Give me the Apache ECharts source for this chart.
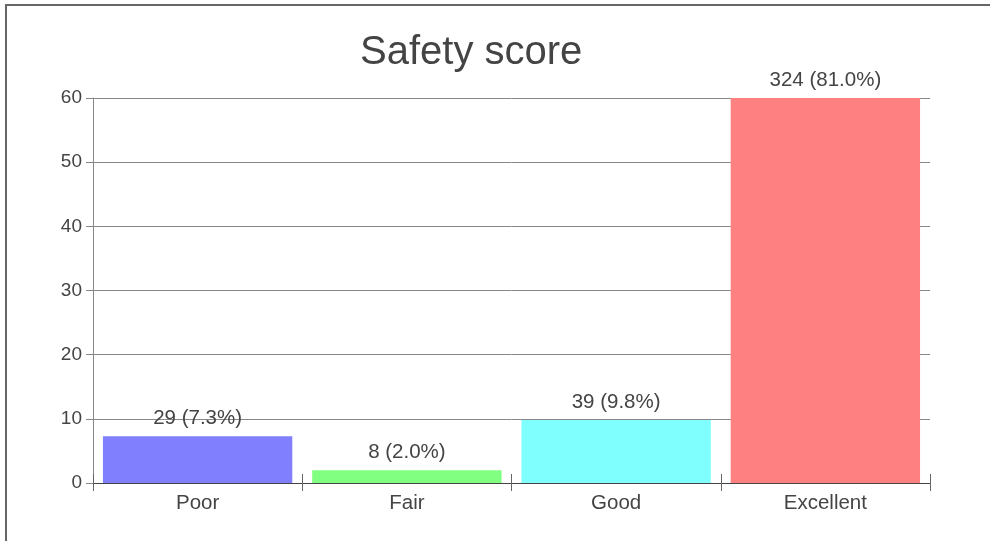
<!DOCTYPE html>
<html>
<head>
<meta charset="utf-8">
<script src="https://cdn.jsdelivr.net/npm/echarts@6/dist/echarts.min.js"></script>
<style>
  html, body { margin: 0; padding: 0; background: #fff; }
  #chart { width: 990px; height: 541px; }
</style>
</head>
<body>
<div id="chart"></div>
<script>
// Safety score distribution: counts and share of responses
const categories = ['Poor', 'Fair', 'Good', 'Excellent'];
const counts = [29, 8, 39, 324];
const percents = [7.3, 2.0, 9.8, 81.0];
const barColors = ['#8080ff', '#80ff80', '#80ffff', '#ff8080'];
const yTicks = [0, 10, 20, 30, 40, 50, 60];

const FONT = '"Liberation Sans", Arial, sans-serif';
const TEXT = '#444';

const chart = echarts.init(document.getElementById('chart'), null, { renderer: 'canvas' });

chart.setOption({
  animation: false,
  backgroundColor: '#fff',
  textStyle: { fontFamily: FONT },
  title: {
    text: 'Safety score',
    left: 355,
    top: 28,
    textStyle: { fontFamily: FONT, fontSize: 40, fontWeight: 'normal', color: TEXT }
  },
  graphic: [{
    type: 'rect',
    shape: { x: 6, y: 5, width: 1100, height: 700 },
    style: { fill: 'none', stroke: '#666', lineWidth: 2 },
    silent: true
  }],
  grid: { left: 93, right: 60, top: 98, bottom: 58, containLabel: false },
  xAxis: [{
    type: 'category',
    data: categories,
    position: 'bottom',
    axisLine: { show: true, lineStyle: { color: '#444', width: 1 } },
    axisTick: { show: true, length: 8, lineStyle: { color: '#666' } },
    axisLabel: { color: TEXT, fontSize: 20.5, fontFamily: FONT, margin: 10 },
    splitLine: { show: false }
  }, {
    // upward half of the category boundary ticks
    type: 'category',
    data: categories,
    position: 'top',
    offset: -385,
    axisLine: { show: false },
    axisTick: { show: true, length: 9, lineStyle: { color: '#666' } },
    axisLabel: { show: false },
    splitLine: { show: false }
  }],
  yAxis: {
    type: 'value',
    min: yTicks[0],
    max: yTicks[yTicks.length - 1],
    interval: 10,
    axisLine: { show: true, lineStyle: { color: '#888' } },
    axisTick: { show: true, length: 7, lineStyle: { color: '#888' } },
    axisLabel: { color: TEXT, fontSize: 19, fontFamily: FONT, margin: 11 },
    splitLine: { show: true, lineStyle: { color: '#888', width: 1 } }
  },
  series: [{
    type: 'bar',
    xAxisIndex: 0,
    clip: true,
    barCategoryGap: '9.5%',
    data: percents.map((v, i) => ({ value: v, itemStyle: { color: barColors[i] } })),
    label: {
      show: true,
      position: 'top',
      distance: 7,
      color: TEXT,
      fontSize: 20.5,
      fontFamily: FONT,
      formatter: p => counts[p.dataIndex] + ' (' + percents[p.dataIndex].toFixed(1) + '%)'
    }
  }]
});
</script>
</body>
</html>
